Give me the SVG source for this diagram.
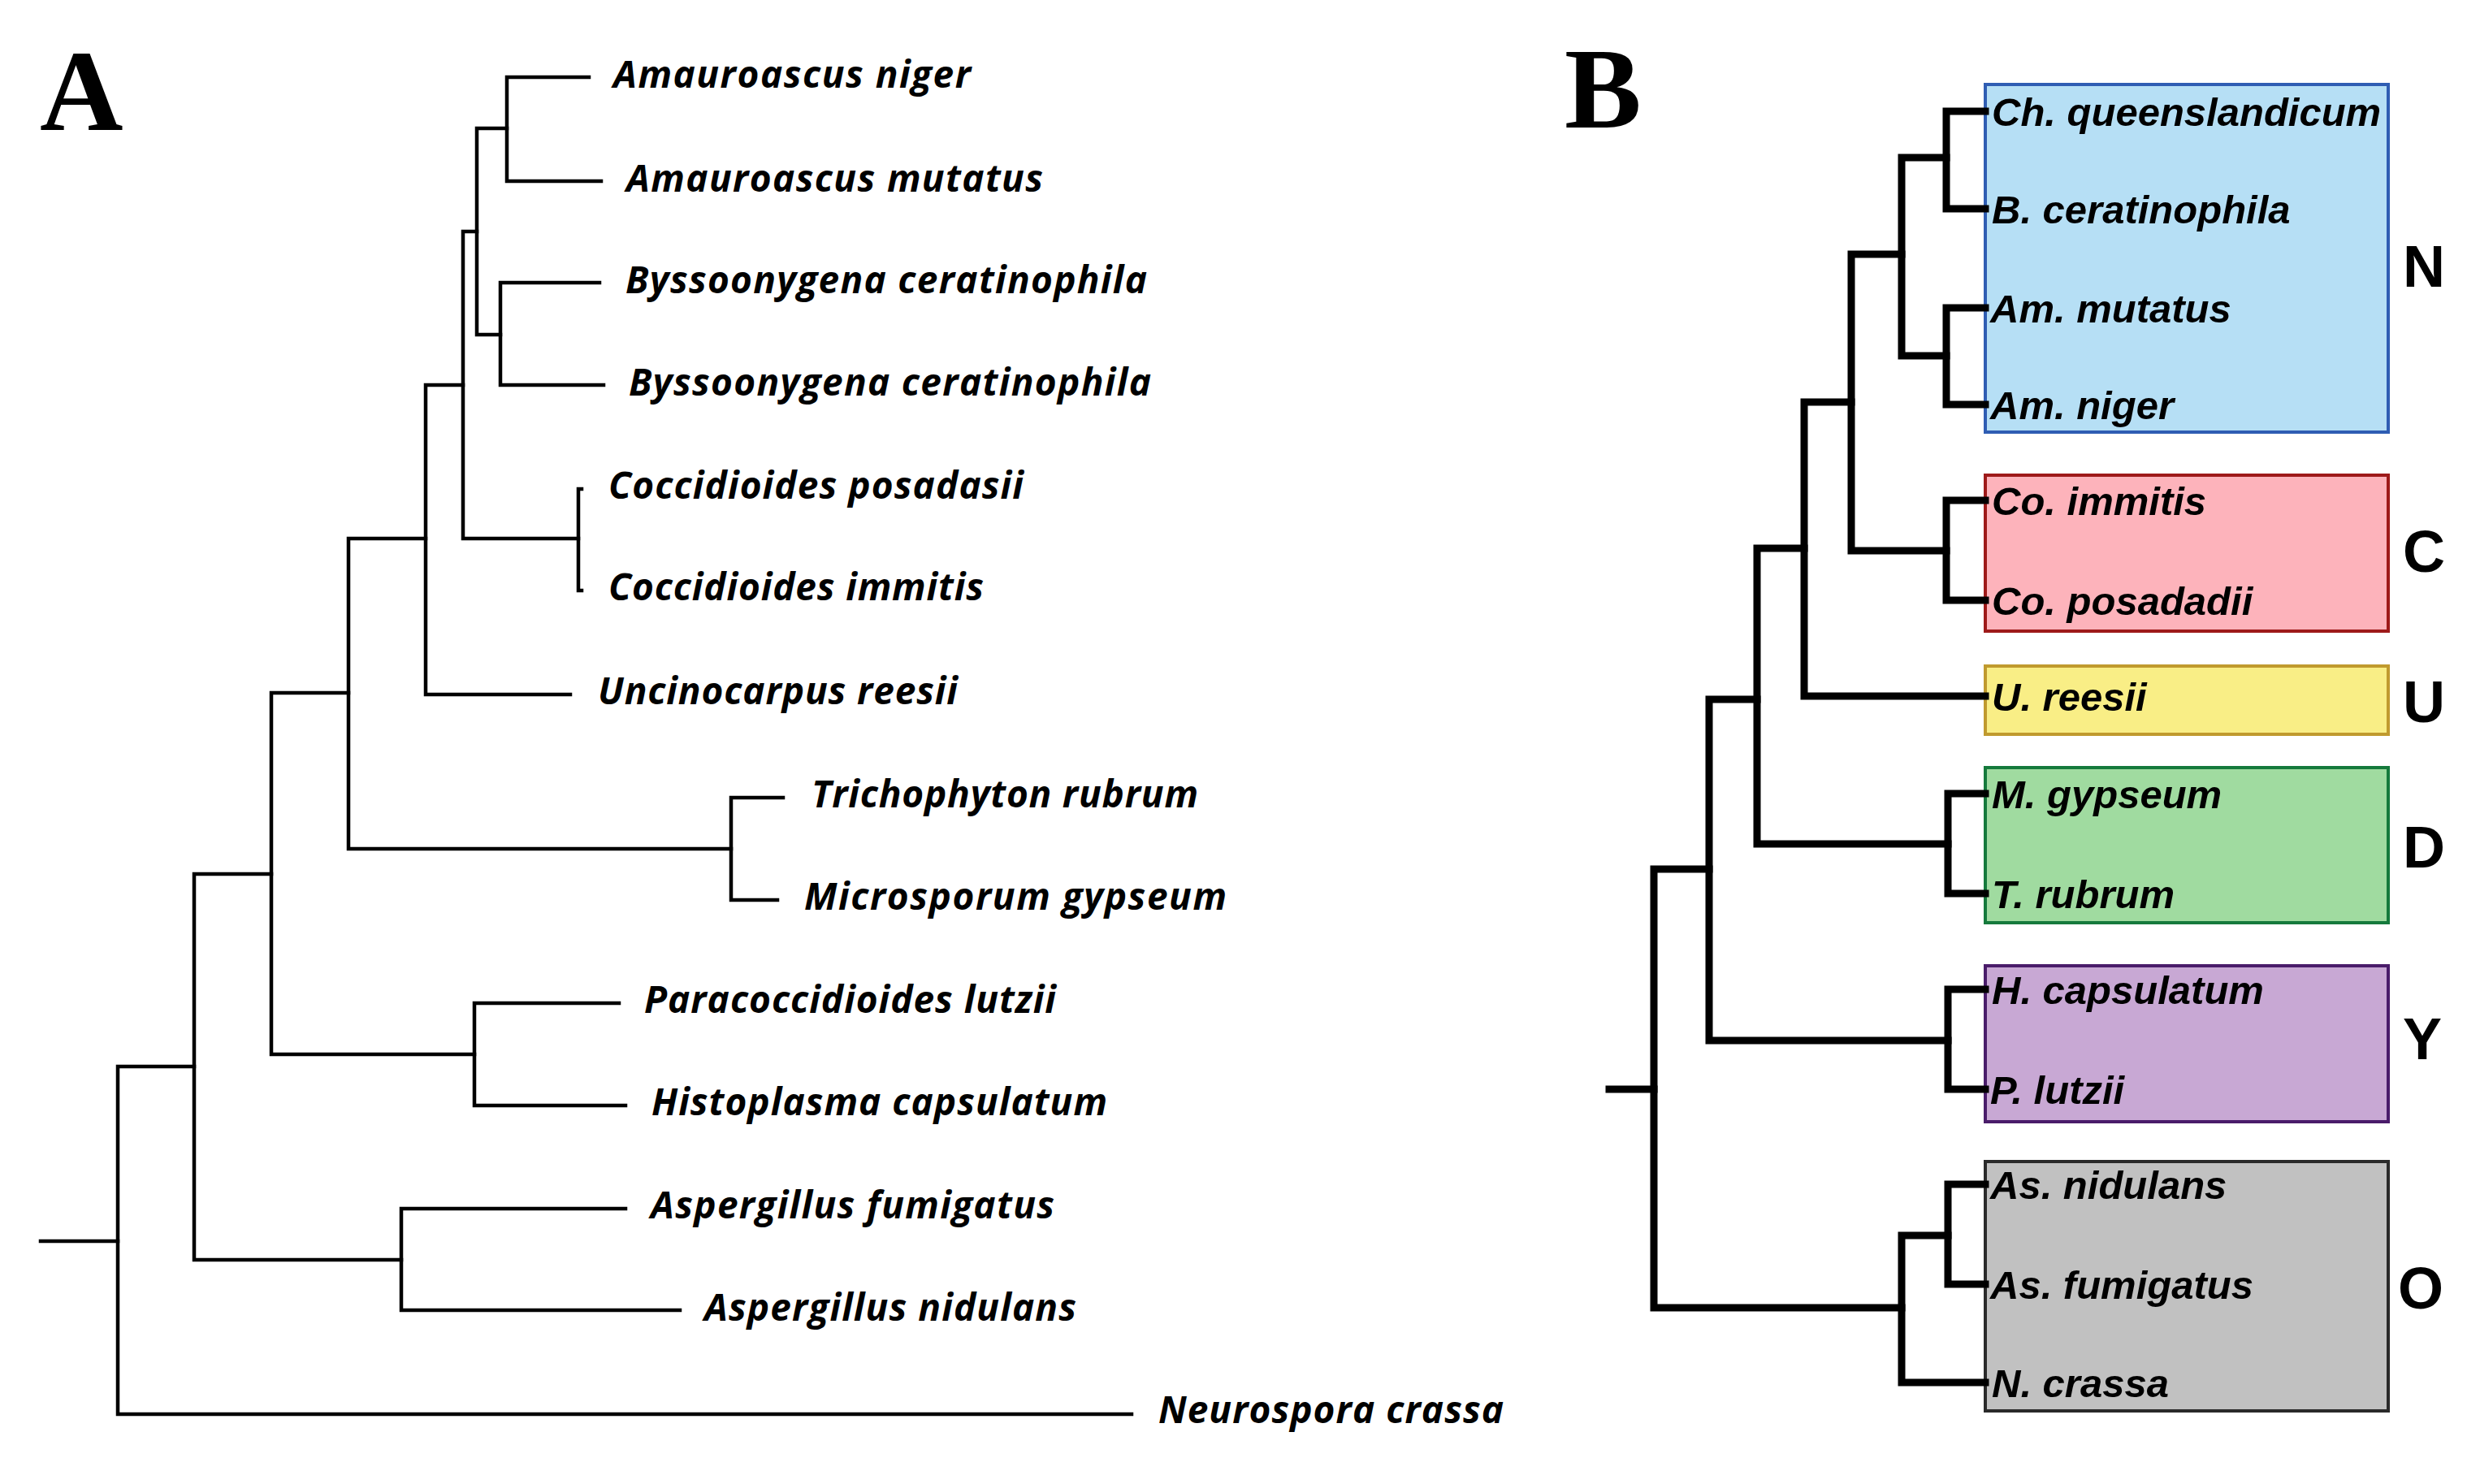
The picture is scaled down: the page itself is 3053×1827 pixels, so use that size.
<svg xmlns="http://www.w3.org/2000/svg" width="3053" height="1827" viewBox="0 0 3053 1827">
<style>
.bg{fill:#ffffff}
.ta{fill:none;stroke:#000;stroke-width:4.5;stroke-linecap:square;stroke-linejoin:miter}
.tb{fill:none;stroke:#000;stroke-width:9;stroke-linecap:square;stroke-linejoin:miter}
.la{font-family:"Open Sans","Noto Sans","DejaVu Sans",sans-serif;font-style:italic;font-weight:700;font-size:46px;fill:#000}
.lb{font-family:"Liberation Sans",Arial,sans-serif;font-style:italic;font-weight:700;font-size:49px;fill:#000}
.gl{font-family:"Liberation Sans",Arial,sans-serif;font-weight:700;font-size:72px;fill:#000}
.pl{font-family:"Liberation Serif","Times New Roman",serif;font-weight:700;font-size:142px;fill:#000}
.box{stroke-width:4}
</style>
<rect class="bg" x="0" y="0" width="3053" height="1827"/>

<g id="panel-labels">
<text class="pl" x="49" y="160">A</text>
<text class="pl" x="1926" y="157">B</text>
</g>

<g id="connectors-A">
<path class="ta" d="M50 1528 H145"/>
<path class="ta" d="M239 1313 H145 V1741 H1393"/>
<path class="ta" d="M334 1076 H239 V1551 H494"/>
<path class="ta" d="M770 1488 H494 V1613 H837"/>
<path class="ta" d="M429 853 H334 V1298 H584"/>
<path class="ta" d="M762 1235 H584 V1361 H770"/>
<path class="ta" d="M524 663 H429 V1045 H900"/>
<path class="ta" d="M964 982 H900 V1108 H957"/>
<path class="ta" d="M570 474 H524 V855 H702"/>
<path class="ta" d="M587 285 H570 V663 H712"/>
<path class="ta" d="M716 602 H712 V727 H716"/>
<path class="ta" d="M624 158 H587 V412 H616"/>
<path class="ta" d="M725 95 H624 V223 H740"/>
<path class="ta" d="M738 348 H616 V474 H743"/>
</g>

<g id="nodes-A">
<g id="a-amauroascus-niger"><text class="la" x="755" y="108" textLength="440" lengthAdjust="spacing">Amauroascus niger</text></g>
<g id="a-amauroascus-mutatus"><text class="la" x="771" y="236" textLength="513" lengthAdjust="spacing">Amauroascus mutatus</text></g>
<g id="a-byssoonygena-1"><text class="la" x="770" y="361" textLength="642" lengthAdjust="spacing">Byssoonygena ceratinophila</text></g>
<g id="a-byssoonygena-2"><text class="la" x="774" y="487" textLength="643" lengthAdjust="spacing">Byssoonygena ceratinophila</text></g>
<g id="a-coccidioides-posadasii"><text class="la" x="749" y="614" textLength="511" lengthAdjust="spacing">Coccidioides posadasii</text></g>
<g id="a-coccidioides-immitis"><text class="la" x="749" y="739" textLength="462" lengthAdjust="spacing">Coccidioides immitis</text></g>
<g id="a-uncinocarpus"><text class="la" x="736" y="867" textLength="443" lengthAdjust="spacing">Uncinocarpus reesii</text></g>
<g id="a-trichophyton"><text class="la" x="999" y="994" textLength="476" lengthAdjust="spacing">Trichophyton rubrum</text></g>
<g id="a-microsporum"><text class="la" x="990" y="1120" textLength="520" lengthAdjust="spacing">Microsporum gypseum</text></g>
<g id="a-paracoccidioides"><text class="la" x="793" y="1247" textLength="507" lengthAdjust="spacing">Paracoccidioides lutzii</text></g>
<g id="a-histoplasma"><text class="la" x="802" y="1373" textLength="561" lengthAdjust="spacing">Histoplasma capsulatum</text></g>
<g id="a-aspergillus-fumigatus"><text class="la" x="801" y="1500" textLength="497" lengthAdjust="spacing">Aspergillus fumigatus</text></g>
<g id="a-aspergillus-nidulans"><text class="la" x="867" y="1626" textLength="458" lengthAdjust="spacing">Aspergillus nidulans</text></g>
<g id="a-neurospora"><text class="la" x="1426" y="1752" textLength="425" lengthAdjust="spacing">Neurospora crassa</text></g>
</g>

<g id="group-boxes-B">
<g id="b-group-N"><rect class="box" x="2444" y="104" width="496" height="428" fill="#b6dff5" stroke="#2f5db3"/><text class="gl" x="2958" y="353">N</text></g>
<g id="b-group-C"><rect class="box" x="2444" y="585" width="496" height="192" fill="#fdb3bb" stroke="#9e1a1a"/><text class="gl" x="2958" y="704">C</text></g>
<g id="b-group-U"><rect class="box" x="2444" y="820" width="496" height="84" fill="#f9ee86" stroke="#c09a2e"/><text class="gl" x="2958" y="889">U</text></g>
<g id="b-group-D"><rect class="box" x="2444" y="945" width="496" height="191" fill="#a0dba0" stroke="#157a3c"/><text class="gl" x="2958" y="1068">D</text></g>
<g id="b-group-Y"><rect class="box" x="2444" y="1189" width="496" height="192" fill="#c8a8d4" stroke="#4a1c6a"/><text class="gl" x="2958" y="1304">Y</text></g>
<g id="b-group-O"><rect class="box" x="2444" y="1430" width="496" height="307" fill="#c1c1c1" stroke="#2a2a2a"/><text class="gl" x="2952" y="1611">O</text></g>
</g>

<g id="connectors-B">
<path class="tb" d="M1981 1341 H2036"/>
<path class="tb" d="M2104 1070 H2036 V1610 H2341"/>
<path class="tb" d="M2398 1521 H2341 V1702 H2444"/>
<path class="tb" d="M2444 1458 H2398 V1581 H2444"/>
<path class="tb" d="M2163 861 H2104 V1281 H2398"/>
<path class="tb" d="M2444 1218 H2398 V1341 H2444"/>
<path class="tb" d="M2221 675 H2163 V1039 H2398"/>
<path class="tb" d="M2444 977 H2398 V1100 H2444"/>
<path class="tb" d="M2279 495 H2221 V857 H2444"/>
<path class="tb" d="M2341 313 H2279 V678 H2396"/>
<path class="tb" d="M2444 616 H2396 V739 H2444"/>
<path class="tb" d="M2396 194 H2341 V438 H2396"/>
<path class="tb" d="M2444 137 H2396 V257 H2444"/>
<path class="tb" d="M2444 379 H2396 V498 H2444"/>
</g>

<g id="nodes-B">
<g id="b-ch-queenslandicum"><text class="lb" x="2452" y="155">Ch. queenslandicum</text></g>
<g id="b-b-ceratinophila"><text class="lb" x="2452" y="275">B. ceratinophila</text></g>
<g id="b-am-mutatus"><text class="lb" x="2450" y="397">Am. mutatus</text></g>
<g id="b-am-niger"><text class="lb" x="2450" y="516">Am. niger</text></g>
<g id="b-co-immitis"><text class="lb" x="2452" y="634">Co. immitis</text></g>
<g id="b-co-posadadii"><text class="lb" x="2452" y="757">Co. posadadii</text></g>
<g id="b-u-reesii"><text class="lb" x="2452" y="875">U. reesii</text></g>
<g id="b-m-gypseum"><text class="lb" x="2452" y="995">M. gypseum</text></g>
<g id="b-t-rubrum"><text class="lb" x="2452" y="1118">T. rubrum</text></g>
<g id="b-h-capsulatum"><text class="lb" x="2452" y="1236">H. capsulatum</text></g>
<g id="b-p-lutzii"><text class="lb" x="2450" y="1359">P. lutzii</text></g>
<g id="b-as-nidulans"><text class="lb" x="2450" y="1476">As. nidulans</text></g>
<g id="b-as-fumigatus"><text class="lb" x="2450" y="1599">As. fumigatus</text></g>
<g id="b-n-crassa"><text class="lb" x="2452" y="1720">N. crassa</text></g>
</g>
</svg>
